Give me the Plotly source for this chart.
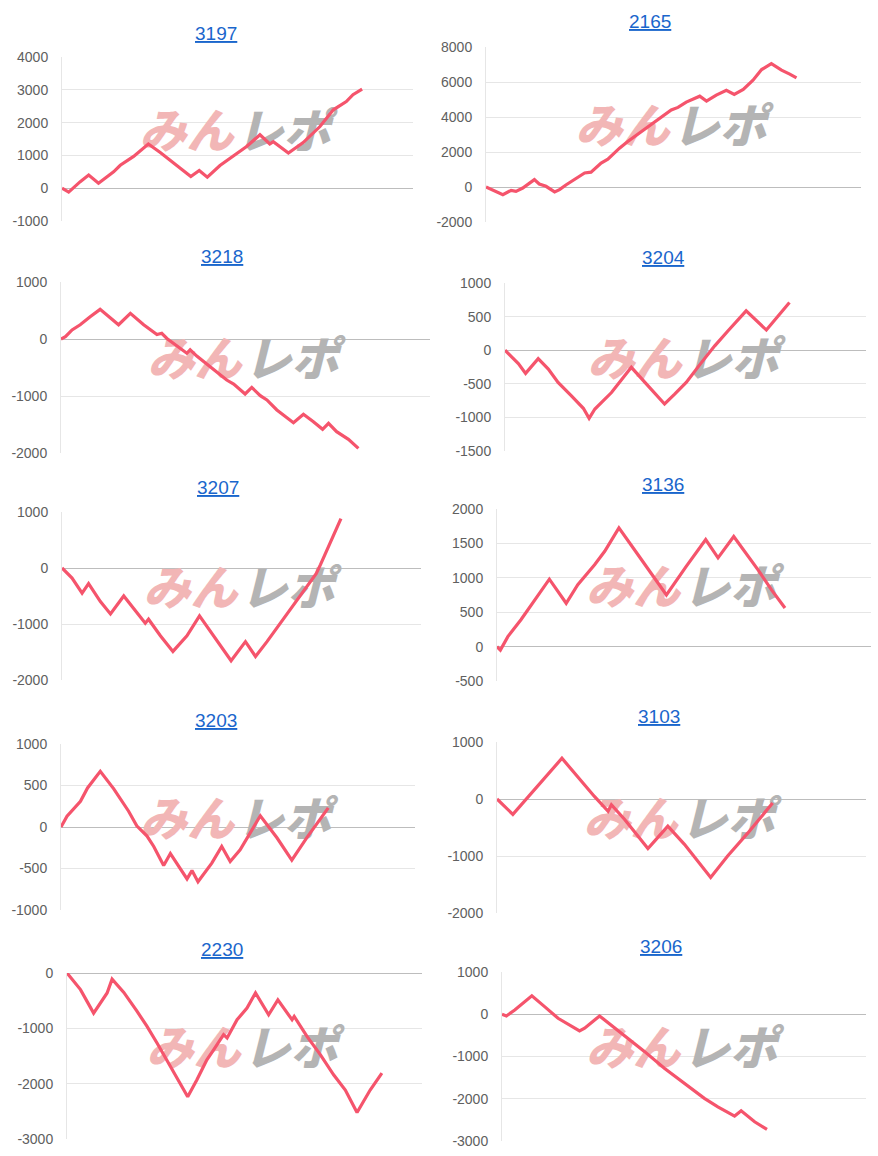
import plotly.graph_objects as go

W, H = 878, 1156

titles = ["3197", "2165", "3218", "3204", "3207", "3136", "3203", "3103", "2230", "3206"]

x1 = [0, 1.9, 5.2, 7.6, 10.4, 14.7, 16.6, 20.4, 24.6, 28.0, 32.7, 36.7, 39.1, 41.4, 45.0, 48.8, 52.6, 56.4, 59.2, 60.2, 64.5, 68.7, 73.5, 77.3, 81.0, 82.9, 85.5]
y1 = [0, -120, 200, 400, 150, 500, 700, 970, 1350, 1090, 690, 355, 540, 335, 690, 970, 1270, 1630, 1350, 1420, 1070, 1390, 1880, 2390, 2640, 2850, 3020]

x2 = [0, 4.5, 6.7, 8.0, 9.8, 12.9, 14.2, 16.0, 18.3, 19.6, 21.4, 23.6, 26.3, 28.0, 30.7, 32.5, 35.6, 37.8, 40.5, 44.1, 46.7, 49.4, 51.2, 53.4, 57.0, 58.8, 61.4, 64.1, 66.2, 68.6, 71.2, 73.5, 76.1, 78.8, 81.0, 82.8]
y2 = [0, -440, -190, -250, -60, 420, 170, 40, -280, -150, 130, 420, 800, 850, 1370, 1590, 2220, 2600, 3010, 3550, 3980, 4400, 4550, 4850, 5190, 4910, 5250, 5530, 5290, 5570, 6100, 6710, 7050, 6680, 6450, 6240]

x3 = [0, 1.2, 3.0, 5.2, 7.9, 10.6, 15.6, 18.8, 22.4, 26.0, 27.3, 28.7, 34.1, 35.0, 36.8, 40.4, 44.9, 46.8, 49.9, 51.7, 54.0, 55.8, 58.5, 63.0, 65.7, 68.4, 70.9, 72.5, 74.7, 77.9, 80.6]
y3 = [0, 40, 160, 250, 390, 520, 250, 450, 250, 80, 100, 10, -250, -190, -300, -485, -720, -790, -965, -850, -995, -1070, -1245, -1470, -1320, -1450, -1585, -1480, -1625, -1760, -1920]

x4 = [0, 3.7, 5.7, 9.2, 12.0, 14.7, 18.4, 21.7, 23.3, 24.9, 29.5, 35.0, 39.2, 44.2, 47.0, 50.2, 54.4, 58.1, 61.8, 66.8, 72.4, 73.7, 75.6, 78.8]
y4 = [0, -200, -345, -125, -280, -480, -680, -865, -1015, -875, -630, -255, -505, -800, -655, -480, -185, 65, 290, 585, 300, 385, 495, 710]

x5 = [0, 2.8, 5.6, 7.4, 10.7, 13.5, 17.2, 20.9, 23.2, 24.1, 27.4, 30.9, 34.8, 38.3, 42.2, 47.1, 51.1, 53.9, 57.1, 60.8, 64.5, 68.7, 70.8, 72.0, 74.7, 75.7, 77.7]
y5 = [0, -180, -450, -280, -600, -820, -500, -800, -985, -915, -1210, -1490, -1210, -855, -1220, -1655, -1315, -1580, -1315, -985, -655, -300, -100, 60, 450, 600, 880]

x6 = [0, 0.9, 2.9, 6.4, 14.0, 18.5, 21.6, 26.1, 28.8, 32.6, 37.7, 45.3, 50.6, 55.8, 59.1, 63.3, 69.8, 73.4, 77.0]
y6 = [0, -50, 145, 390, 980, 630, 900, 1190, 1385, 1725, 1335, 750, 1165, 1555, 1290, 1600, 1115, 825, 560]

x7 = [0, 1.7, 5.5, 7.5, 11.1, 14.9, 19.1, 21.4, 24.3, 26.2, 29.0, 30.9, 35.6, 37.0, 38.7, 42.6, 45.4, 47.8, 50.6, 56.3, 61.0, 65.2, 69.4, 75.5]
y7 = [0, 130, 310, 470, 670, 460, 190, 15, -110, -235, -465, -320, -625, -525, -660, -435, -235, -415, -275, 135, -130, -400, -130, 230]

x8 = [0, 4.3, 17.6, 21.9, 26.4, 30.1, 31.0, 34.6, 40.9, 42.7, 46.3, 50.8, 57.9, 62.5, 68.0, 74.7]
y8 = [0, -270, 715, 385, 45, -215, -100, -360, -870, -740, -475, -795, -1375, -1000, -595, -70]

x9 = [0, 1.4, 3.8, 7.5, 11.3, 12.7, 16.0, 19.7, 22.5, 25.4, 29.1, 31.9, 34.0, 36.6, 39.4, 41.3, 44.1, 45.1, 47.9, 50.7, 53.1, 56.8, 59.4, 63.4, 64.0, 67.6, 71.4, 75.1, 78.4, 81.7, 85.4, 88.7]
y9 = [0, -110, -300, -725, -360, -110, -350, -690, -960, -1270, -1690, -1990, -2235, -1930, -1570, -1390, -1115, -1175, -845, -635, -360, -755, -485, -845, -785, -1145, -1480, -1840, -2115, -2520, -2115, -1810]

x10 = [0, 1.2, 3.5, 8.2, 11.7, 15.4, 21.3, 22.7, 26.8, 30.0, 33.7, 39.2, 44.6, 50.1, 55.6, 59.3, 63.9, 65.7, 69.4, 72.8]
y10 = [0, -40, 100, 435, 180, -95, -395, -330, -40, -255, -515, -885, -1280, -1635, -1990, -2190, -2410, -2285, -2545, -2725]

# y tick values per panel (first and last are the axis range)
yt1 = [-1000, 0, 1000, 2000, 3000, 4000]
yt2 = [-2000, 0, 2000, 4000, 6000, 8000]
yt3 = [-2000, -1000, 0, 1000]
yt4 = [-1500, -1000, -500, 0, 500, 1000]
yt5 = [-2000, -1000, 0, 1000]
yt6 = [-500, 0, 500, 1000, 1500, 2000]
yt7 = [-1000, -500, 0, 500, 1000]
yt8 = [-2000, -1000, 0, 1000]
yt9 = [-3000, -2000, -1000, 0]
yt10 = [-3000, -2000, -1000, 0, 1000]

xs = [x1, x2, x3, x4, x5, x6, x7, x8, x9, x10]
ys = [y1, y2, y3, y4, y5, y6, y7, y8, y9, y10]
yts = [yt1, yt2, yt3, yt4, yt5, yt6, yt7, yt8, yt9, yt10]

# plot-area boxes in pixels: (left, right, top, bottom)
boxes = [(62, 413, 57, 221), (486, 861, 47, 222),
         (61, 430, 282, 453), (505, 866, 283, 451),
         (62, 421, 512, 680), (497, 871, 509, 681),
         (61, 415, 744, 910), (497, 866, 742, 913),
         (67, 422, 973, 1139), (502, 866, 972, 1141)]
title_pos = [(216, 34), (650, 22), (222, 257), (663, 258), (218, 488),
             (663, 486), (216, 721), (659, 717), (222, 950), (661, 947)]

LINE = "#f5546c"
FONT = "Liberation Sans, Arial, sans-serif"
JP = "Noto Sans CJK JP"

fig = go.Figure()
layout = dict(width=W, height=H, template="none",
              margin=dict(l=0, r=0, t=0, b=0, pad=0, autoexpand=False),
              paper_bgcolor="white", plot_bgcolor="rgba(0,0,0,0)",
              showlegend=False, annotations=[])

for i in range(10):
    k = "" if i == 0 else str(i + 1)
    l, r, t, b = boxes[i]
    tv = yts[i]
    y0, y1_ = tv[0], tv[-1]
    xa, ya = "x" + k, "y" + k
    layout["xaxis" + k] = dict(domain=[l / W, r / W], range=[0, 100], anchor=ya,
                              showgrid=False, zeroline=False, showline=False,
                              showticklabels=False, ticks="", fixedrange=True,
                              automargin=False)
    layout["yaxis" + k] = dict(domain=[1 - b / H, 1 - t / H], range=[y0, y1_], anchor=xa,
                              tickmode="array", tickvals=tv, ticktext=[str(v) for v in tv],
                              showgrid=True, gridcolor="#e6e6e6",
                              gridwidth=1, zeroline=True, zerolinecolor="#bdbdbd",
                              zerolinewidth=1, showline=True, linecolor="#e6e6e6", linewidth=1,
                              ticks="", ticklabelstandoff=10, automargin=False,
                              tickfont=dict(family=FONT, size=14, color="#606060"),
                              fixedrange=True)
    # watermark (drawn beneath the line)
    px_per_y = (b - t) / (y1_ - y0)
    px_per_x = (r - l) / 100.0
    wy = (y0 + y1_) / 2 + 3 / px_per_y
    wx = 50 - 4 / px_per_x
    fig.add_trace(go.Scatter(x=[wx], y=[wy], xaxis=xa, yaxis=ya, mode="text",
                             text=["みん"], textposition="middle left",
                             textfont=dict(family=JP, size=47, color="#f2b6b6",
                                           weight=900, style="italic"),
                             hoverinfo="skip", cliponaxis=False))
    fig.add_trace(go.Scatter(x=[wx + 3 / px_per_x], y=[wy], xaxis=xa, yaxis=ya, mode="text",
                             text=["レポ"], textposition="middle right",
                             textfont=dict(family=JP, size=47, color="#b4b4b4",
                                           weight=900, style="italic"),
                             hoverinfo="skip", cliponaxis=False))
    fig.add_trace(go.Scatter(x=xs[i], y=ys[i], xaxis=xa, yaxis=ya, mode="lines",
                             line=dict(color=LINE, width=3.2, shape="linear"),
                             hoverinfo="skip"))
    tx, ty = title_pos[i]
    layout["annotations"].append(dict(
        text="<u>" + titles[i] + "</u>", xref="paper", yref="paper",
        x=tx / W, y=1 - (ty - 1) / H, xanchor="center", yanchor="middle",
        showarrow=False, font=dict(family=FONT, size=19, color="#1a66cc")))

fig.update_layout(**layout)
fig.write_html("out.html")
